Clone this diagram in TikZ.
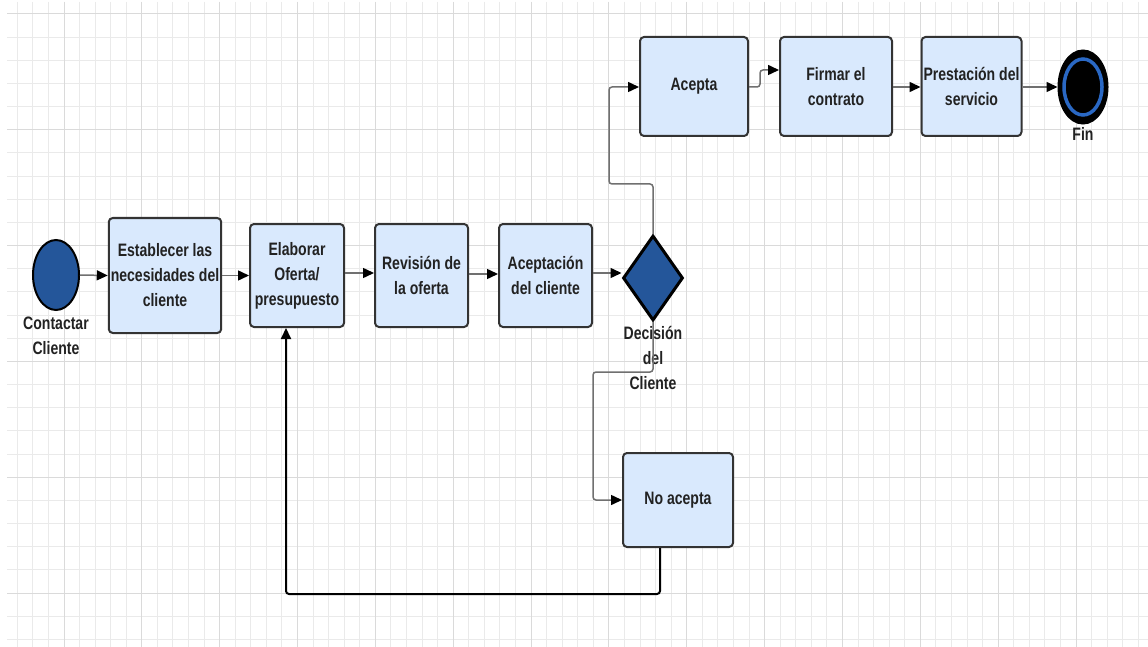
\documentclass[tikz,border=0pt]{standalone}
\usepackage{fontspec}
\setmainfont{Liberation Sans}[FakeStretch=0.78]
\usetikzlibrary{arrows.meta,shapes.geometric}
\definecolor{boxfill}{HTML}{D9E9FD}
\definecolor{boxline}{HTML}{333333}
\definecolor{darkblue}{HTML}{24569A}
\definecolor{ringblue}{HTML}{2A68C4}
\definecolor{conn}{HTML}{707070}
\definecolor{gridl}{HTML}{EAEAEA}
\definecolor{gridd}{HTML}{DADADA}
\definecolor{txt}{HTML}{222222}
\begin{document}
\begin{tikzpicture}[x=1pt,y=-1pt,
  stepbox/.style={draw=boxline,line width=2pt,fill=boxfill,rounded corners=4pt,
    inner sep=2pt,align=center,text=txt,font=\fontsize{18}{25}\selectfont\bfseries},
  lbl/.style={align=center,text=txt,inner sep=0pt,font=\fontsize{18}{25}\selectfont\bfseries},
  conline/.style={draw=conn,line width=1.5pt,rounded corners=3pt,-{Triangle[length=11pt,width=10pt,color=black]}},
  backline/.style={draw=black,line width=2pt,rounded corners=3pt,-{Triangle[length=11pt,width=10pt,color=black]}}]
\useasboundingbox (0,0) rectangle (1148,647);
\fill[white] (0,0) rectangle (1148,647);
% grid
\foreach \k in {-3,...,69} \draw[gridl,line width=1pt] ({64+15.57*\k},2) -- ({64+15.57*\k},647);
\foreach \k in {0,...,27} \draw[gridl,line width=1pt] (7,{14+23.16*\k}) -- (1148,{14+23.16*\k});
\foreach \k in {0,...,13} \draw[gridd,line width=1pt] ({64+77.85*\k},2) -- ({64+77.85*\k},647);
\foreach \k in {0,...,5} \draw[gridd,line width=1pt] (7,{14+115.8*\k}) -- (1148,{14+115.8*\k});
% nodes
\node[ellipse,draw=black,line width=2pt,fill=darkblue,minimum width=46pt,minimum height=70pt,inner sep=0pt] (s) at (56,275) {};
\node[lbl] (sl) at (56,336) {Contactar\\Cliente};
\node[stepbox,minimum width=109pt,minimum height=115pt] (b1) at (165,275.5) {Establecer las\\necesidades del\\cliente};
\node[stepbox,minimum width=94pt,minimum height=103pt] (b2) at (297,275.5) {Elaborar\\Oferta/\\presupuesto};
\node[stepbox,minimum width=93pt,minimum height=103pt] (b3) at (421.5,275.5) {Revisión de\\la oferta};
\node[stepbox,minimum width=93pt,minimum height=103pt] (b4) at (545.5,275.5) {Aceptación\\del cliente};
\node[diamond,draw=black,line width=3pt,fill=darkblue,minimum width=60pt,minimum height=85pt,inner sep=0pt] (d) at (653,278) {};
\node[lbl] (dl) at (653,358) {Decisión\\del\\Cliente};
\node[stepbox,minimum width=108pt,minimum height=99pt] (a) at (694,86.5) {Acepta};
\node[stepbox,minimum width=112pt,minimum height=99pt] (f) at (836,86.5) {Firmar el\\contrato};
\node[stepbox,minimum width=97pt,minimum height=99pt] (p) at (971.5,86.5) {Prestación del\\servicio};
\node[ellipse,draw=black,line width=5pt,fill=black,minimum width=46pt,minimum height=70pt,inner sep=0pt] (fin) at (1083,87) {};
\draw[ringblue,line width=3.5pt] (fin.center) ellipse [x radius=19pt,y radius=28pt];
\node[lbl] (fl) at (1083,134) {Fin};
\node[stepbox,minimum width=110pt,minimum height=94pt] (n) at (678,500) {No acepta};
% connectors
\draw[conline] (s.east) -- (b1.west);
\draw[conline] (b1.east) -- (b2.west);
\draw[conline] (b2.east |- 0,273) -- (b3.west |- 0,273);
\draw[conline] (b3.east |- 0,274) -- (b4.west |- 0,274);
\draw[conline] (b4.east |- 0,273) -- (d.west |- 0,273);
\draw[conline] (d.north) -- (653,184) -- (609,184) -- (609,87) -- (a.west |- 0,87);
\draw[conline] (a.east |- 0,87) -- (760,87) -- (760,70) -- (f.west |- 0,70);
\draw[conline] (f.east |- 0,87) -- (p.west |- 0,87);
\draw[conline] (p.east |- 0,87) -- (fin.west);
\draw[conline] (d.south) -- (653,372) -- (593,372) -- (593,500) -- (n.west);
\draw[backline] (n.south -| 660,0) -- (660,594) -- (286,594) -- (b2.south -| 286,0);
\end{tikzpicture}
\end{document}
